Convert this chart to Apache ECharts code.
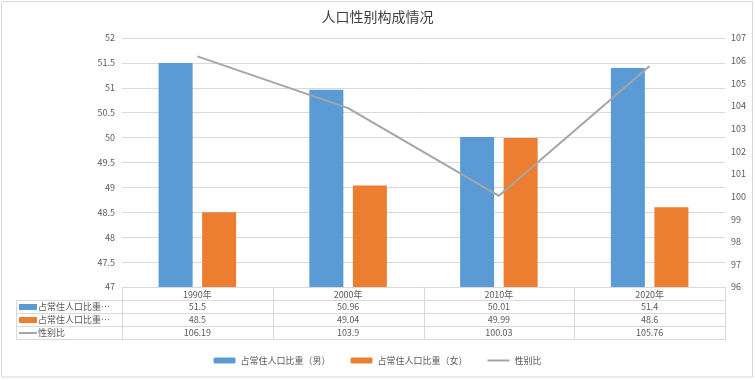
<!DOCTYPE html>
<html><head><meta charset="utf-8">
<script src="https://cdn.jsdelivr.net/npm/echarts@6/dist/echarts.min.js"></script>
<style>html,body{margin:0;padding:0;background:#fff}#c{width:755px;height:380px}</style>
</head><body><div id="c"></div>
<script>
const title = '人口性别构成情况';
const categories = ['1990年', '2000年', '2010年', '2020年'];
const maleShare = [51.5, 50.96, 50.01, 51.4];
const femaleShare = [48.5, 49.04, 49.99, 48.6];
const sexRatio = [106.19, 103.9, 100.03, 105.76];
const seriesNames = ['占常住人口比重（男）', '占常住人口比重（女）', '性别比'];
const tableRowLabels = ['占常住人口比重…', '占常住人口比重…', '性别比'];

const FONT = '"Noto Sans CJK SC", "Noto Sans", sans-serif';
const TXT = '#595959';
const GRID = '#d9d9d9';
const C_M = '#5B9BD5', C_F = '#ED7D31', C_R = '#A5A5A5';

const chart = echarts.init(document.getElementById('c'), null, {renderer: 'canvas'});
const option = {
  animation: false,
  textStyle: {fontFamily: FONT},
  title: {text: title, left: 'center', top: 5,
    textStyle: {fontSize: 14, fontWeight: 'normal', color: '#404040', fontFamily: FONT}},
  grid: {left: 122, right: 30, top: 38, bottom: 93},
  legend: {
    data: [
      {name: seriesNames[0]},
      {name: seriesNames[1]},
      {name: seriesNames[2], icon: 'path://M0 2 H22 V4 H0 Z M0 0 H0.01 V6 H0 Z'}
    ],
    left: 'center', top: 351, itemWidth: 22, itemHeight: 6, itemGap: 20,
    textStyle: {fontSize: 9, color: TXT, fontFamily: FONT}
  },
  xAxis: {
    type: 'category', data: categories, boundaryGap: true,
    axisLine: {lineStyle: {color: GRID}}, axisTick: {show: false},
    axisLabel: {fontSize: 9, color: TXT, margin: 3, fontFamily: FONT}
  },
  yAxis: [
    {type: 'value', min: 47, max: 52, interval: 0.5,
      axisLine: {show: false}, axisTick: {show: false},
      splitLine: {lineStyle: {color: GRID}},
      axisLabel: {fontSize: 9, color: TXT, margin: 7, fontFamily: FONT}},
    {type: 'value', min: 96, max: 107, interval: 1,
      axisLine: {show: false}, axisTick: {show: false}, splitLine: {show: false},
      axisLabel: {fontSize: 9, color: TXT, margin: 6, fontFamily: FONT}}
  ],
  series: [
    {name: seriesNames[0], type: 'bar', data: maleShare, barWidth: 34, barGap: '28%',
      itemStyle: {color: C_M}},
    {name: seriesNames[1], type: 'bar', data: femaleShare, barWidth: 34,
      itemStyle: {color: C_F}},
    {name: seriesNames[2], type: 'line', yAxisIndex: 1, data: sexRatio, symbol: 'none',
      lineStyle: {color: C_R, width: 2}, itemStyle: {color: C_R}}
  ]
};
chart.setOption(option);

// Data table below the plot, positioned from the category axis scale
const centers = categories.map((c, i) => chart.convertToPixel({xAxisIndex: 0}, i));
const bw = centers.length > 1 ? centers[1] - centers[0] : 150;
const xEnd = Math.round(centers[centers.length - 1] + bw / 2) + 0.5;
const yAxisPix = Math.round(chart.convertToPixel({yAxisIndex: 0}, 47));
const rowTops = [yAxisPix + 13.5, yAxisPix + 26.5, yAxisPix + 39.5, yAxisPix + 52.5];
const tableLeft = 16.5;
const g = [];
const ls = {stroke: GRID, lineWidth: 1};
rowTops.forEach(y => g.push({type: 'line', shape: {x1: tableLeft, y1: y, x2: xEnd, y2: y}, style: ls, silent: true}));
for (let i = 0; i <= categories.length; i++) {
  const x = Math.round(centers[0] - bw / 2 + i * bw) + 0.5;
  g.push({type: 'line', shape: {x1: x, y1: yAxisPix, x2: x, y2: rowTops[3]}, style: ls, silent: true});
}
g.push({type: 'line', shape: {x1: tableLeft, y1: rowTops[0], x2: tableLeft, y2: rowTops[3]}, style: ls, silent: true});
const rows = [maleShare, femaleShare, sexRatio];
const rowColors = [C_M, C_F, C_R];
rows.forEach((arr, r) => {
  const yc = (rowTops[r] + rowTops[r + 1]) / 2;
  arr.forEach((v, i) => {
    g.push({type: 'text', x: centers[i], y: yc, silent: true,
      style: {text: String(v), fill: TXT, font: '9px ' + FONT, align: 'center', verticalAlign: 'middle'}});
  });
  if (r < 2) {
    g.push({type: 'rect', shape: {x: 19, y: yc - 3, width: 18, height: 6}, style: {fill: rowColors[r]}, silent: true});
  } else {
    g.push({type: 'line', shape: {x1: 19, y1: yc, x2: 37, y2: yc}, style: {stroke: rowColors[r], lineWidth: 2}, silent: true});
  }
  g.push({type: 'text', x: 38, y: yc, silent: true,
    style: {text: tableRowLabels[r], fill: TXT, font: '9px ' + FONT, align: 'left', verticalAlign: 'middle'}});
});
g.push({type: 'rect', shape: {x: 1.5, y: 1.5, width: 751, height: 375.5}, style: {fill: null, stroke: GRID, lineWidth: 1}, silent: true});
chart.setOption({graphic: g});
</script></body></html>
